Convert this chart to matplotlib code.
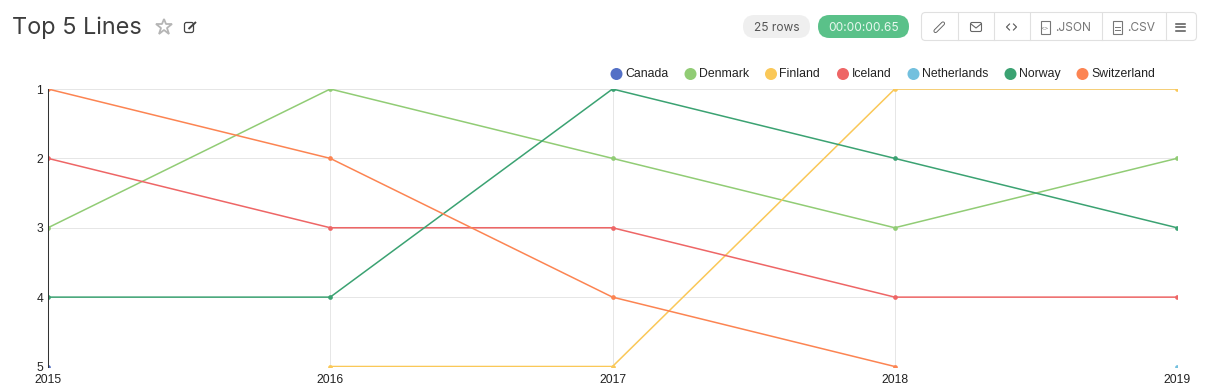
"""
Top 5 Lines: ranking por país y año, con la cabecera de la vista de consulta
"""

import matplotlib
matplotlib.use("Agg")
import matplotlib.pyplot as plt
from matplotlib.patches import FancyBboxPatch, Circle, Rectangle

W, H = 1205, 389

years = [2015, 2016, 2017, 2018, 2019]
ranks = [1, 2, 3, 4, 5]

canada = [5, None, None, None, None]
denmark = [3, 1, 2, 3, 2]
finland = [None, 5, 5, 1, 1]
iceland = [2, 3, 3, 4, 4]
netherlands = [None, None, None, None, 5]
norway = [4, 4, 1, 2, 3]
switzerland = [1, 2, 4, 5, None]

names = ["Canada", "Denmark", "Finland", "Iceland", "Netherlands", "Norway", "Switzerland"]
series = [canada, denmark, finland, iceland, netherlands, norway, switzerland]
colors = ["#5470C6", "#91CC75", "#FAC858", "#EE6666", "#73C0DE", "#3BA272", "#FC8452"]
legend_x = [616.5, 690.5, 771, 843, 913.5, 1010.5, 1082.5]

fig = plt.figure(figsize=(W / 100, H / 100), dpi=100)

# capa de cabecera en coordenadas de pixel
ui = fig.add_axes([0, 0, 1, 1])
ui.set_xlim(0, W)
ui.set_ylim(H, 0)
ui.axis("off")

# grafico
ax = fig.add_axes([48 / W, 1 - 366.5 / H, (1177 - 48) / W, (366.5 - 89) / H])
ax.patch.set_alpha(0)
for s in ["top", "right", "bottom"]:
    ax.spines[s].set_visible(False)
ax.spines["left"].set_color("#333333")
ax.spines["left"].set_linewidth(0.75)
ax.set_xlim(2015, 2019)
ax.set_ylim(5, 1)
ax.set_xticks(years)
ax.set_yticks(ranks)
ax.set_xticklabels([str(y) for y in years], fontfamily="Liberation Sans", fontsize=8.7, color="#222222")
ax.set_yticklabels([str(r) for r in ranks], fontfamily="Liberation Sans", fontsize=8.7, color="#222222")
ax.tick_params(length=0, pad=3.5)
ax.tick_params(axis="x", pad=5.5)
ax.grid(True, color="#E6E6E6", linewidth=0.72)
ax.set_axisbelow(True)

for nombre, valores, color in zip(names, series, colors):
    xs = [y for y, v in zip(years, valores) if v is not None]
    ys = [v for v in valores if v is not None]
    ax.plot(xs, ys, color=color, linewidth=1.1, marker="o", markersize=3.4,
            markeredgewidth=0, label=nombre)

# leyenda
for nombre, color, lx in zip(names, colors, legend_x):
    ui.add_patch(Circle((lx, 74), 6, facecolor=color, edgecolor="none"))
    ui.text(lx + 8.5, 74, nombre, fontfamily="Liberation Sans", fontsize=8.8,
            color="#222222", va="center", ha="left")

# titulo e iconos
ui.text(12, 27.5, "Top 5 Lines", fontfamily="Inter", fontsize=16.9,
        color="#3D3D3D", va="center", ha="left")
ui.plot([164], [27], marker="*", markersize=12, markerfacecolor="white",
        markeredgecolor="#B5B5B5", markeredgewidth=1.3)
ui.add_patch(FancyBboxPatch((184.5, 22.5), 9, 10, boxstyle="round,pad=0,rounding_size=2",
                            facecolor="white", edgecolor="#444444", linewidth=0.9))
ui.plot([188.5, 196], [29, 22], color="#444444", linewidth=1.4, solid_capstyle="butt")

# pildoras
ui.add_patch(FancyBboxPatch((743, 15), 67, 23, boxstyle="round,pad=0,rounding_size=11.5",
                            facecolor="#EFEFEF", edgecolor="none"))
ui.text(776.5, 27.5, "25 rows", fontfamily="Inter", fontsize=8.6, color="#555555",
        va="center", ha="center")
ui.add_patch(FancyBboxPatch((818, 15), 91, 23, boxstyle="round,pad=0,rounding_size=11.5",
                            facecolor="#5AC189", edgecolor="none"))
ui.text(863.5, 27.5, "00:00:00.65", fontfamily="Inter", fontsize=8.6, color="#E9F8EF",
        va="center", ha="center")

# barra de botones
ui.add_patch(FancyBboxPatch((921.5, 12.5), 275, 28, boxstyle="round,pad=0,rounding_size=4",
                            facecolor="white", edgecolor="#E0E0E0", linewidth=0.8))
for sx in [957.5, 993.5, 1029.5, 1101.5, 1165.5]:
    ui.plot([sx, sx], [13, 40], color="#E0E0E0", linewidth=0.8)

# clip
ui.plot([935.5, 943], [31, 23.5], color="#666666", linewidth=3.0, solid_capstyle="round")
ui.plot([935.5, 943], [31, 23.5], color="white", linewidth=1.6, solid_capstyle="round")
# sobre
ui.add_patch(FancyBboxPatch((970.5, 22.5), 11, 9, boxstyle="round,pad=0,rounding_size=1.5",
                            facecolor="white", edgecolor="#666666", linewidth=0.8))
ui.plot([971, 976, 981], [24, 28, 24], color="#666666", linewidth=0.8)
# codigo
ui.plot([1009.5, 1006.5, 1009.5], [24, 27, 30], color="#555555", linewidth=0.8)
ui.plot([1013.5, 1016.5, 1013.5], [24, 27, 30], color="#555555", linewidth=0.8)
# documentos
for dx in [1040.5, 1112.5]:
    ui.add_patch(Rectangle((dx, 20.5), 9.5, 13, facecolor="white", edgecolor="#777777", linewidth=0.8))
ui.text(1045, 28, "<>", fontfamily="DejaVu Sans", fontsize=3.5, color="#777777",
        va="center", ha="center")
ui.plot([1114.5, 1120], [27, 27], color="#777777", linewidth=0.7)
ui.plot([1114.5, 1120], [30, 30], color="#777777", linewidth=0.7)
ui.text(1055, 27.5, ".JSON", fontfamily="Inter", fontsize=8.6, color="#777777",
        va="center", ha="left")
ui.text(1127, 27.5, ".CSV", fontfamily="Inter", fontsize=8.6, color="#777777",
        va="center", ha="left")
# menu
for my in [23.5, 27, 30.5]:
    ui.plot([1176, 1185], [my, my], color="#555555", linewidth=1.1)

ui.set_xlim(0, W)
ui.set_ylim(H, 0)

fig.savefig("out.png", dpi=100)
